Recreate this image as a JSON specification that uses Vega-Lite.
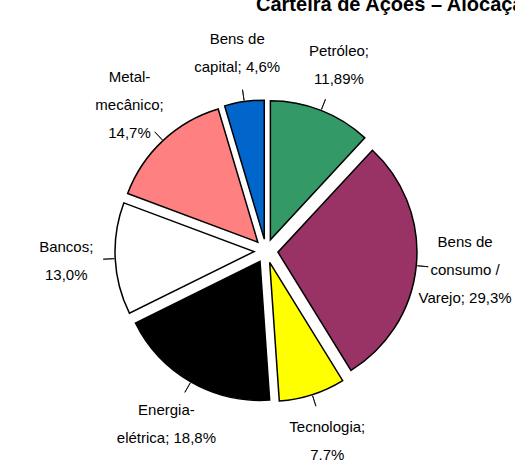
{
  "$schema": "https://vega.github.io/schema/vega-lite/v6.json",
  "width": 498,
  "height": 420,
  "autosize": {"type": "none"},
  "padding": {"left": 17, "top": 41, "right": 0, "bottom": 0},
  "background": "white",
  "title": {
    "text": "Carteira de Ações – Alocação",
    "anchor": "start",
    "frame": "group",
    "orient": "top",
    "offset": 0,
    "dx": 239,
    "dy": -1,
    "baseline": "alphabetic",
    "font": "Liberation Sans",
    "fontSize": 20,
    "fontWeight": "bold",
    "color": "black"
  },
  "data": {
    "values": [
      {"setor": "Petróleo", "v": 11.89, "i": 1, "rotulo": "Petróleo;\n11,89%"},
      {"setor": "Bens de consumo / Varejo", "v": 29.3, "i": 2, "rotulo": "Bens de\nconsumo /\nVarejo; 29,3%"},
      {"setor": "Tecnologia", "v": 7.7, "i": 3, "rotulo": "Tecnologia;\n7.7%"},
      {"setor": "Energia-elétrica", "v": 18.8, "i": 4, "rotulo": "Energia-\nelétrica; 18,8%"},
      {"setor": "Bancos", "v": 13.0, "i": 5, "rotulo": "Bancos;\n13,0%"},
      {"setor": "Metal-mecânico", "v": 14.7, "i": 6, "rotulo": "Metal-\nmecânico;\n14,7%"},
      {"setor": "Bens de capital", "v": 4.6, "i": 7, "rotulo": "Bens de\ncapital; 4,6%"}
    ]
  },
  "encoding": {
    "theta": {"field": "v", "type": "quantitative", "stack": true},
    "order": {"field": "i", "type": "quantitative", "sort": "ascending"}
  },
  "layer": [
    {
      "mark": {
        "type": "arc",
        "radius": 139,
        "stroke": "black",
        "strokeWidth": 1.5,
        "x": {"expr": "width/2 + 12*sin((scale('theta', datum.v_start) + scale('theta', datum.v_end))/2)"},
        "y": {"expr": "height/2 - 12*cos((scale('theta', datum.v_start) + scale('theta', datum.v_end))/2)"}
      },
      "encoding": {
        "color": {
          "field": "setor",
          "type": "nominal",
          "scale": {
            "domain": ["Petróleo", "Bens de consumo / Varejo", "Tecnologia", "Energia-elétrica", "Bancos", "Metal-mecânico", "Bens de capital"],
            "range": ["#339966", "#993366", "#FFFF00", "#000000", "#FFFFFF", "#FF8080", "#0066CC"]
          },
          "legend": null
        }
      }
    },
    {
      "mark": {
        "type": "arc",
        "radius": 163,
        "radius2": 152,
        "padAngle": 3,
        "filled": false,
        "color": "black",
        "strokeWidth": 0.8
      },
      "encoding": {}
    },
    {
      "mark": {
        "type": "text",
        "radius": 200,
        "lineBreak": "\n",
        "lineHeight": 28,
        "font": "Liberation Sans",
        "fontSize": 15,
        "color": "black",
        "align": "center",
        "baseline": "middle",
        "dy": {"expr": "-14*(length(split(datum.rotulo, '\\n')) - 1)"}
      },
      "encoding": {"text": {"field": "rotulo", "type": "nominal"}}
    }
  ]
}
